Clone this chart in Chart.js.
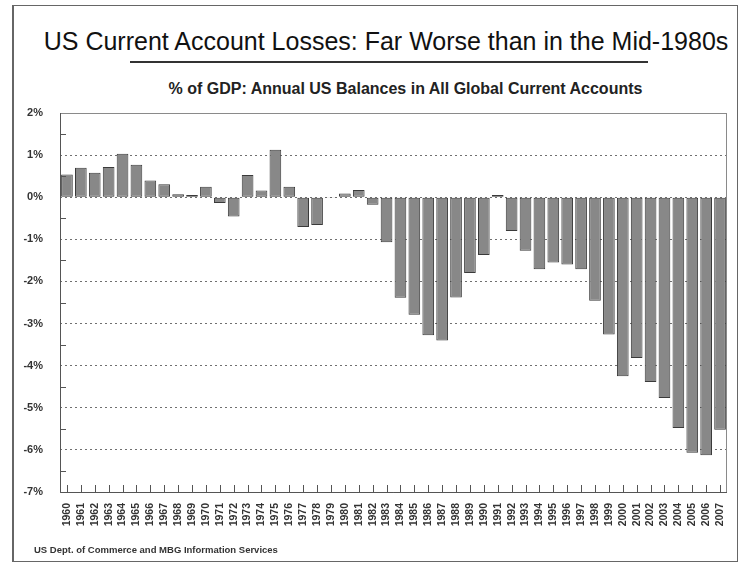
<!DOCTYPE html>
<html>
<head>
<meta charset="utf-8">
<script src="https://cdn.jsdelivr.net/npm/chart.js@4"></script>
<style>
    body { margin: 0; background: #fff; font-family: "Liberation Sans", Arial, sans-serif; }
    #wrap { position: relative; width: 746px; height: 565px; overflow: hidden; }
    #frame { position: absolute; left: 12px; top: 5px; width: 726px; height: 557px;
             border: 1px solid #666; border-left-width: 2px; box-sizing: border-box; }
    #title { position: absolute; left: 0; width: 772px; top: 26px; text-align: center;
             font-size: 25px; color: #111; line-height: 30px; white-space: nowrap; }
    #rule { position: absolute; left: 130px; width: 518px; top: 61px; border-top: 2px solid #333; }
    #subtitle { position: absolute; left: 0; width: 811px; top: 80px; text-align: center;
                font-size: 16px; font-weight: bold; color: #222; line-height: 18px; white-space: nowrap; }
    #source { position: absolute; left: 34px; top: 544px; font-size: 9.5px; font-weight: bold; color: #333; }
    canvas { position: absolute; left: 0; top: 0; }
</style>
</head>
<body>
<div id="wrap">
    <div id="frame"></div>
    <div id="title">US Current Account Losses: Far Worse than in the Mid-1980s</div>
    <div id="rule"></div>
    <div id="subtitle">% of GDP: Annual US Balances in All Global Current Accounts</div>
    <canvas id="balanceChart" width="746" height="565"></canvas>
    <div id="source">US Dept. of Commerce and MBG Information Services</div>
</div>
<script>
// Years on the x axis
const years = [
    '1960', '1961', '1962', '1963', '1964', '1965', '1966', '1967', '1968', '1969',
    '1970', '1971', '1972', '1973', '1974', '1975', '1976', '1977', '1978', '1979',
    '1980', '1981', '1982', '1983', '1984', '1985', '1986', '1987', '1988', '1989',
    '1990', '1991', '1992', '1993', '1994', '1995', '1996', '1997', '1998', '1999',
    '2000', '2001', '2002', '2003', '2004', '2005', '2006', '2007'
];

// Current account balance, % of GDP
const balances = [
    0.54, 0.70, 0.58, 0.72, 1.03, 0.77, 0.40, 0.31, 0.07, 0.05,
    0.25, -0.14, -0.46, 0.53, 0.16, 1.13, 0.25, -0.71, -0.66, -0.02,
    0.09, 0.17, -0.18, -1.07, -2.39, -2.79, -3.28, -3.40, -2.38, -1.80,
    -1.37, 0.05, -0.80, -1.27, -1.71, -1.55, -1.60, -1.71, -2.46, -3.26,
    -4.25, -3.82, -4.39, -4.77, -5.48, -6.07, -6.13, -5.52
];

// y axis range and minor tick values
const yMin = -7;
const yMax = 2;
const yMinorTicks = [1.5, 0.5, -0.5, -1.5, -2.5, -3.5, -4.5, -5.5, -6.5];

const fontFamily = '"Liberation Sans", Arial, sans-serif';

// plot frame + the small inward tick marks
const framePlugin = {
    id: 'frame',
    afterDatasetsDraw(chart) {
        const { ctx, chartArea: a, scales } = chart;
        ctx.save();
        ctx.lineWidth = 1;
        ctx.strokeStyle = '#8a8a8a';
        ctx.strokeRect(a.left + 0.5, a.top + 0.5, a.right - a.left - 1, a.bottom - a.top);

        ctx.strokeStyle = '#555';
        ctx.beginPath();
        ctx.moveTo(a.left + 0.5, a.top);
        ctx.lineTo(a.left + 0.5, a.bottom + 0.5);
        ctx.lineTo(a.right, a.bottom + 0.5);

        yMinorTicks.forEach(v => {
            const y = Math.round(scales.y.getPixelForValue(v)) + 0.5;
            ctx.moveTo(a.left, y);
            ctx.lineTo(a.left + 6, y);
        });
        years.forEach((yr, i) => {
            const x = Math.round(scales.x.getPixelForValue(i)) + 0.5;
            ctx.moveTo(x, a.bottom);
            ctx.lineTo(x, a.bottom - 7);
        });
        ctx.stroke();
        ctx.restore();
    }
};

const ctx = document.getElementById('balanceChart').getContext('2d');

new Chart(ctx, {
    type: 'bar',
    data: {
        labels: years,
        datasets: [{
            data: balances,
            backgroundColor: '#888888',
            borderColor: '#3a3a3a',
            borderWidth: 1,
            borderSkipped: false,
            barPercentage: 0.84,
            categoryPercentage: 1
        }]
    },
    options: {
        responsive: false,
        animation: false,
        layout: {
            padding: { top: 113, right: 19, bottom: 0, left: 0 }
        },
        plugins: {
            legend: { display: false },
            tooltip: { enabled: false }
        },
        scales: {
            x: {
                grid: { display: false },
                border: { display: false },
                ticks: {
                    autoSkip: false,
                    minRotation: 90,
                    maxRotation: 90,
                    padding: 3,
                    color: '#333',
                    font: { family: fontFamily, size: 10.5, weight: 'bold' }
                },
                afterFit(scale) { scale.height = 73; }
            },
            y: {
                min: yMin,
                max: yMax,
                grid: {
                    drawTicks: false,
                    color: c => (c.tick && (c.tick.value === yMax || c.tick.value === yMin)) ? 'rgba(0,0,0,0)' : '#707070',
                    lineWidth: 1
                },
                border: { display: false, dash: [2, 3] },
                ticks: {
                    stepSize: 1,
                    padding: 17,
                    color: '#333',
                    font: { family: fontFamily, size: 11, weight: 'bold' },
                    callback: v => v + '%'
                },
                afterFit(scale) { scale.width = 60; }
            }
        }
    },
    plugins: [framePlugin]
});
</script>
</body>
</html>
